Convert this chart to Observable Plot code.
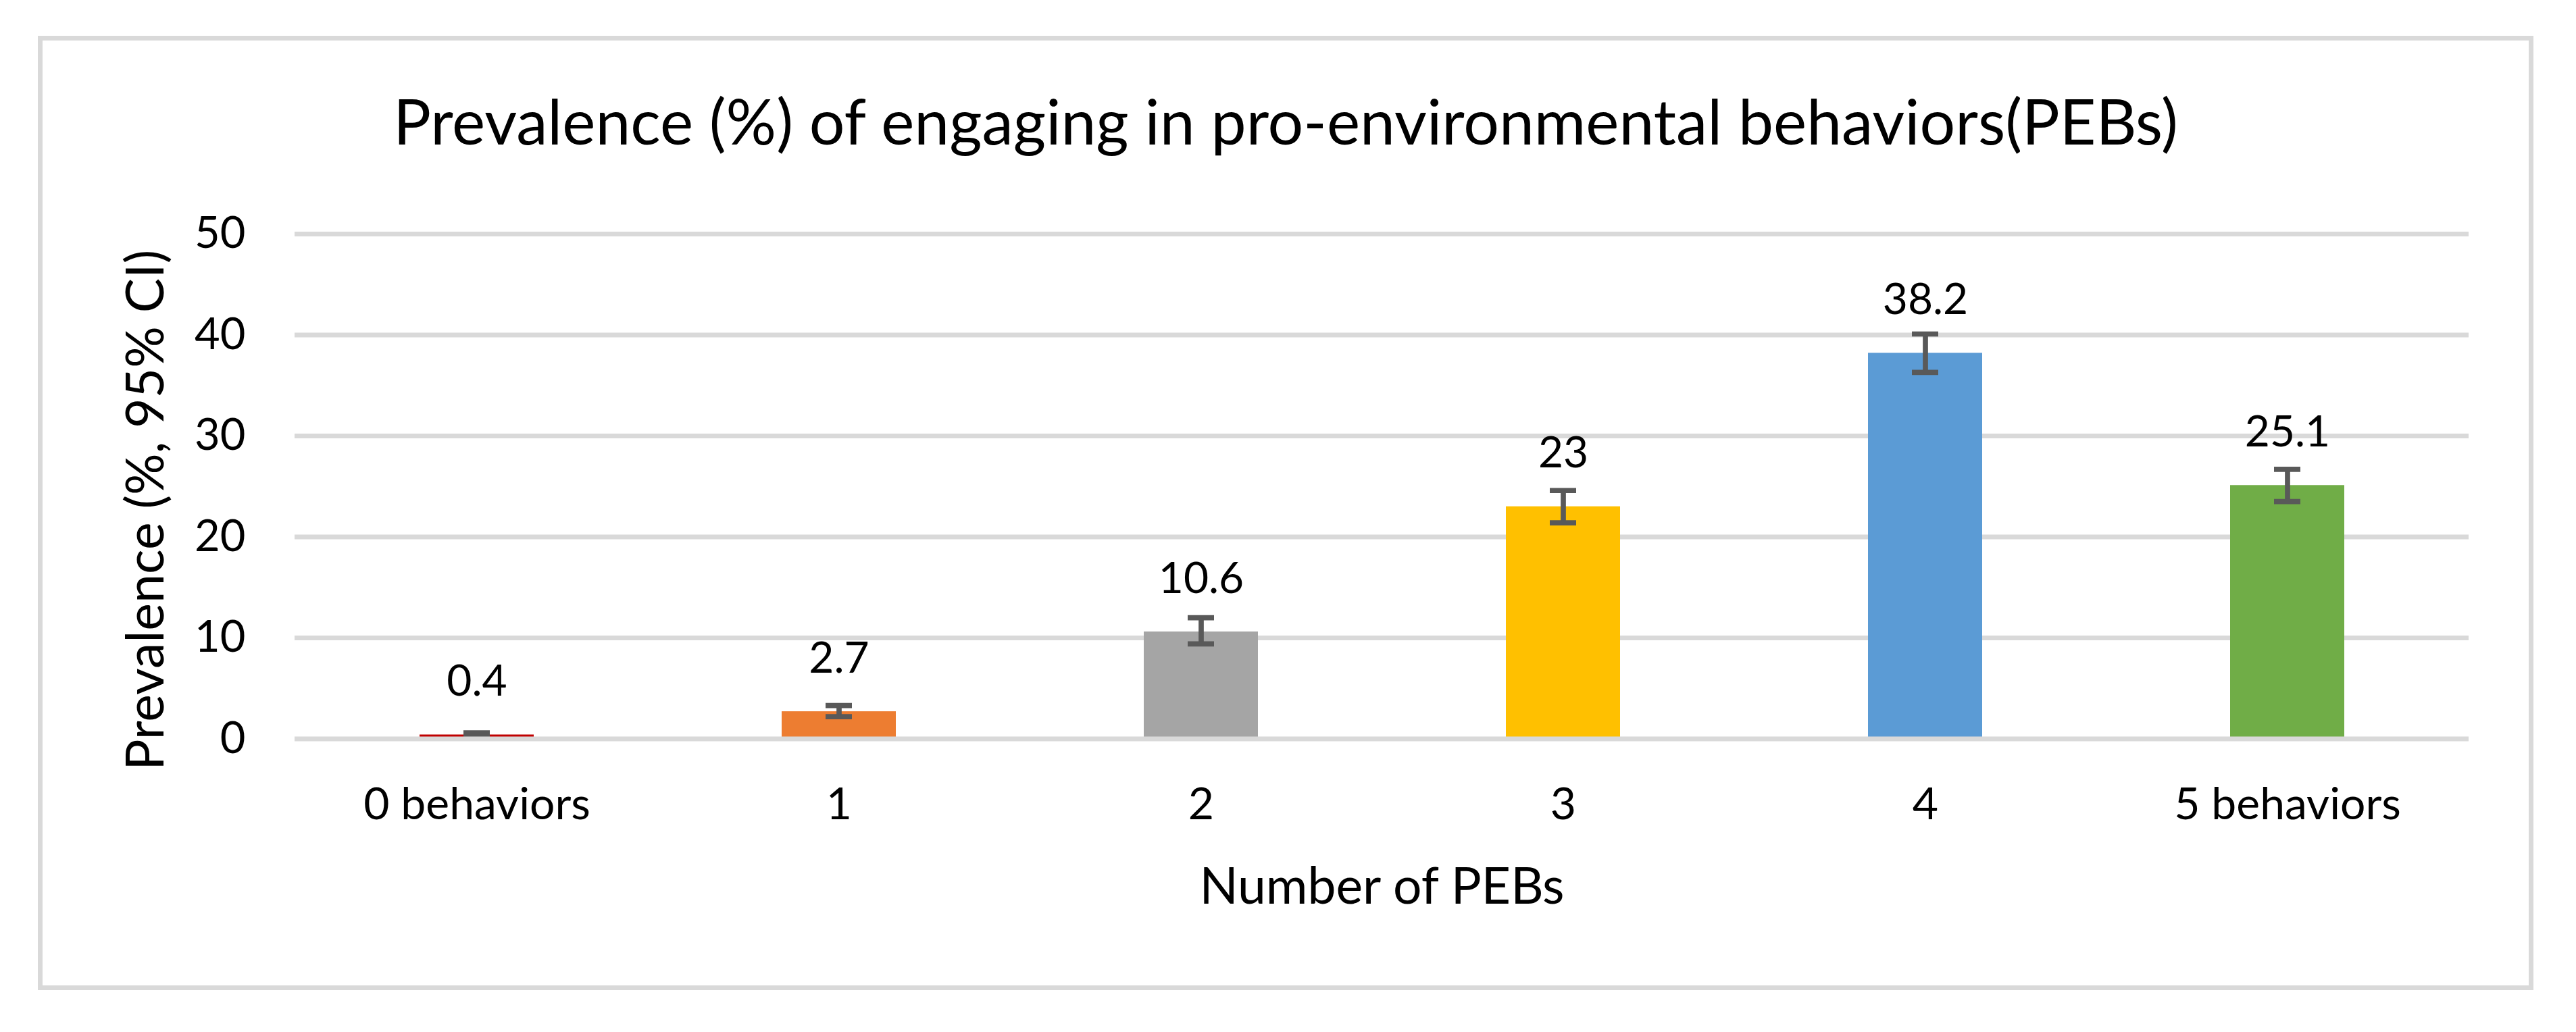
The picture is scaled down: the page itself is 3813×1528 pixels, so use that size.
<!DOCTYPE html>
<html>
<head>
<meta charset="utf-8">
<script src="https://cdn.jsdelivr.net/npm/d3@7"></script>
<script src="https://cdn.jsdelivr.net/npm/@observablehq/plot@0.6"></script>
<style>
  html, body { margin: 0; padding: 0; background: #ffffff; }
  body { width: 3813px; height: 1528px; position: relative; overflow: hidden; font-family: Lato, "Open Sans", sans-serif; }
  #box {
    position: absolute; left: 56px; top: 53px; width: 3694px; height: 1413px;
    box-sizing: border-box; border: 7px solid #D9D9D9; background: #ffffff;
  }
  #title {
    position: absolute; left: 0; top: 72px; width: 100%; text-align: center;
    font-family: Lato, sans-serif; font-size: 93px; line-height: 1; color: #000;
    white-space: nowrap;
  }
  #chart { position: absolute; left: 0px; top: 220px; }
</style>
</head>
<body>
<div id="box">
  <div id="title">Prevalence (%) of engaging in pro-environmental behaviors(PEBs)</div>
  <div id="chart"></div>
</div>
<script>
// ---- data ----
const categories = ["0 behaviors", "1", "2", "3", "4", "5 behaviors"];
const values     = [0.4, 2.7, 10.6, 23, 38.2, 25.1];
const ciLow      = [0.2, 2.2, 9.4, 21.4, 36.3, 23.5];
const ciHigh     = [0.6, 3.3, 12.0, 24.6, 40.1, 26.7];
const colors     = ["#C00000", "#ED7D31", "#A5A5A5", "#FFC000", "#5B9BD5", "#70AD47"];
const yTicks     = [0, 10, 20, 30, 40, 50];
const xTitle     = "Number of PEBs";
const yTitle     = "Prevalence (%, 95% CI)";

const data = categories.map((c, i) => ({
  cat: c, value: values[i], lo: ciLow[i], hi: ciHigh[i], color: colors[i], label: String(values[i])
}));

const W = 3680, H = 1160;
const errColor = "#595959";
const gridColor = "#D9D9D9";

const chart = Plot.plot({
  width: W,
  height: H,
  marginLeft: 373,
  marginRight: 89,
  marginTop: 66,
  marginBottom: 346.5,
  x: { domain: categories, paddingInner: 0.685, paddingOuter: 0.3425, axis: null },
  y: { domain: [0, 50], axis: null },
  style: { fontFamily: "Lato, sans-serif", fontSize: "64px", color: "#000", background: "transparent", overflow: "visible" },
  marks: [
    Plot.gridY(yTicks.filter(d => d !== 0), { stroke: gridColor, strokeOpacity: 1, strokeWidth: 7 }),
    Plot.barY(data, { x: "cat", y: "value", fill: "color" }),
    Plot.ruleX(data, { x: "cat", y1: "lo", y2: "hi", stroke: errColor, strokeWidth: 7.7 }),
    Plot.tickY(data, { x: "cat", y: "lo", stroke: errColor, strokeWidth: 7.7, insetLeft: 65, insetRight: 65 }),
    Plot.tickY(data, { x: "cat", y: "hi", stroke: errColor, strokeWidth: 7.7, insetLeft: 65, insetRight: 65 }),
    Plot.ruleY([0], { stroke: gridColor, strokeWidth: 7 }),
    Plot.axisY(yTicks, { tickSize: 0, tickPadding: 73, fontSize: 65, label: null }),
    Plot.axisX({ tickSize: 0, tickPadding: 72, fontSize: 66, label: null }),
    Plot.text(data, { x: "cat", y: "value", text: "label", lineAnchor: "bottom", dy: -58, fontSize: 64, fill: "#000" }),
    Plot.text([xTitle], { frameAnchor: "bottom", textAnchor: "middle", lineAnchor: "bottom", dy: 244, fontSize: 75, fill: "#000" }),
    Plot.text([yTitle], { frameAnchor: "left", textAnchor: "middle", lineAnchor: "middle", rotate: -90, dx: -219, dy: 35, fontSize: 77, fill: "#000" })
  ]
});
document.getElementById("chart").appendChild(chart);
</script>
</body>
</html>
